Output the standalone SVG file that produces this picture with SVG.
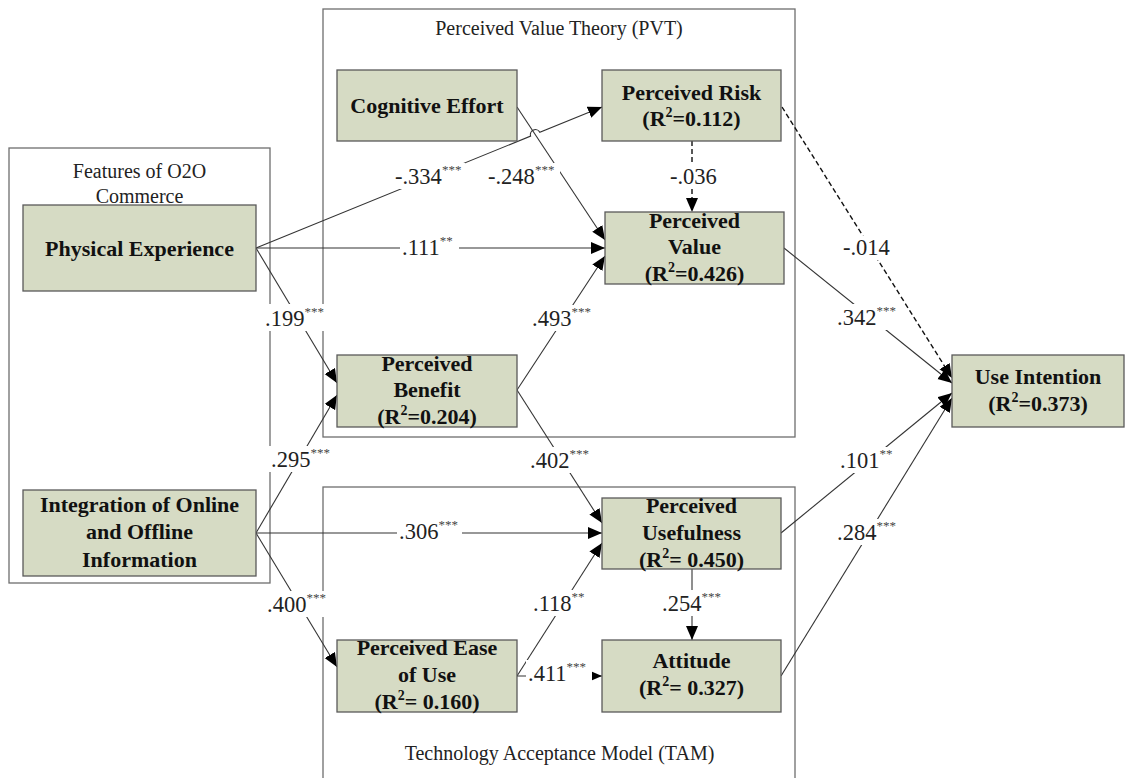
<svg xmlns="http://www.w3.org/2000/svg" width="1126" height="778" viewBox="0 0 1126 778">
<style>
.grp{fill:none;stroke:#6e6e6e;stroke-width:1.3}
.node{fill:#d6dbc4;stroke:#5a5a5a;stroke-width:1.3}
.nt{font-family:"Liberation Serif","Times New Roman",serif;font-size:22px;font-weight:bold;fill:#111;text-anchor:middle}
.gt{font-family:"Liberation Serif","Times New Roman",serif;font-size:20px;fill:#222;text-anchor:middle}
.lt{font-family:"Liberation Serif","Times New Roman",serif;font-size:22.5px;fill:#222}
.st{font-size:13px;fill:#444}
.ln{fill:none;stroke:#333;stroke-width:1.1}
.dash{stroke:#111;stroke-width:1.4;stroke-dasharray:5,3}
.bg{fill:#fff}
</style>
<defs>
<marker id="ah" markerUnits="userSpaceOnUse" markerWidth="15" markerHeight="13" refX="14" refY="6" orient="auto">
<path d="M0,0 L14,6 L0,12 z" fill="#000"/>
</marker>
</defs>
<rect width="1126" height="778" fill="#fff"/>

<g id="group-boxes">
<rect class="grp" x="323" y="9" width="472" height="428"/>
<rect class="grp" x="323" y="487" width="472" height="300"/>
<rect class="grp" x="9" y="148" width="261" height="435"/>
<text class="gt" x="559" y="35">Perceived Value Theory (PVT)</text>
<text class="gt" x="139.5" y="178">Features of O2O</text>
<text class="gt" x="139.5" y="203">Commerce</text>
<text class="gt" x="559.5" y="760">Technology Acceptance Model (TAM)</text>
</g>

<g id="connectors">
<path class="ln" d="M256,248 L530.6,136.1 A5,5 0 0 1 539.8,132.3 L602,107" marker-end="url(#ah)"/>
<path class="ln" d="M517,107 L605,240" marker-end="url(#ah)"/>
<path class="ln" d="M256,248 L605,248" marker-end="url(#ah)"/>
<path class="ln" d="M256,248 L337,383" marker-end="url(#ah)"/>
<path class="ln" d="M256,533 L337,395" marker-end="url(#ah)"/>
<path class="ln" d="M256,533 L602,533" marker-end="url(#ah)"/>
<path class="ln" d="M256,533 L337,667" marker-end="url(#ah)"/>
<path class="ln" d="M517,390 L605,256" marker-end="url(#ah)"/>
<path class="ln" d="M517,390 L602,523" marker-end="url(#ah)"/>
<path class="ln" d="M517,676 L602,543" marker-end="url(#ah)"/>
<path class="ln" d="M517,676 L602,676" marker-end="url(#ah)"/>
<path class="ln dash" d="M692,141 L692,212" marker-end="url(#ah)"/>
<path class="ln" d="M692,569 L692,640" marker-end="url(#ah)"/>
<path class="ln dash" d="M782,107 L952,378" marker-end="url(#ah)"/>
<path class="ln" d="M784,248 L952,383" marker-end="url(#ah)"/>
<path class="ln" d="M781,533 L952,393" marker-end="url(#ah)"/>
<path class="ln" d="M781,676 L952,398" marker-end="url(#ah)"/>

<g id="labels">
<rect class="bg" x="393" y="163" width="72" height="26"/>
<text class="lt" x="395" y="184">-.334<tspan class="st" dy="-10">***</tspan></text>
<rect class="bg" x="486" y="163" width="74" height="26"/>
<text class="lt" x="488" y="184">-.248<tspan class="st" dy="-10">***</tspan></text>
<rect class="bg" x="668" y="165" width="51" height="24"/>
<text class="lt" x="670" y="184">-.036</text>
<rect class="bg" x="400" y="234" width="59" height="26"/>
<text class="lt" x="402" y="255">.111<tspan class="st" dy="-10">**</tspan></text>
<rect class="bg" x="530" y="305" width="63" height="26"/>
<text class="lt" x="532" y="326">.493<tspan class="st" dy="-10">***</tspan></text>
<rect class="bg" x="841" y="236" width="50" height="24"/>
<text class="lt" x="843" y="255">-.014</text>
<rect class="bg" x="835" y="304" width="65" height="26"/>
<text class="lt" x="837" y="325">.342<tspan class="st" dy="-10">***</tspan></text>
<rect class="bg" x="838" y="447" width="57" height="26"/>
<text class="lt" x="840" y="468">.101<tspan class="st" dy="-10">**</tspan></text>
<rect class="bg" x="835" y="519" width="63" height="26"/>
<text class="lt" x="837" y="540">.284<tspan class="st" dy="-10">***</tspan></text>
<rect class="bg" x="528" y="447" width="64" height="26"/>
<text class="lt" x="530" y="468">.402<tspan class="st" dy="-10">***</tspan></text>
<rect class="bg" x="397" y="518" width="65" height="26"/>
<text class="lt" x="399" y="539">.306<tspan class="st" dy="-10">***</tspan></text>
<rect class="bg" x="531" y="590" width="63" height="26"/>
<text class="lt" x="533" y="611">.118<tspan class="st" dy="-10">**</tspan></text>
<rect class="bg" x="660" y="590" width="65" height="26"/>
<text class="lt" x="662" y="611">.254<tspan class="st" dy="-10">***</tspan></text>
<rect class="bg" x="526" y="660" width="66" height="26"/>
<text class="lt" x="528" y="681">.411<tspan class="st" dy="-10">***</tspan></text>
<rect class="bg" x="263" y="304" width="64" height="27"/>
<text class="lt" x="265" y="326">.199<tspan class="st" dy="-10">***</tspan></text>
<rect class="bg" x="269" y="446" width="58" height="26"/>
<text class="lt" x="271" y="467">.295<tspan class="st" dy="-10">***</tspan></text>
<rect class="bg" x="265" y="591" width="64" height="26"/>
<text class="lt" x="267" y="612">.400<tspan class="st" dy="-10">***</tspan></text>
</g>
</g>

<g id="physical-experience">
<rect class="node" x="23" y="205" width="233" height="86"/>
<text class="nt" x="139.5" y="256">Physical Experience</text>
</g>
<g id="integration">
<rect class="node" x="23" y="490" width="233" height="86"/>
<text class="nt" x="139.5" y="512">Integration of Online</text>
<text class="nt" x="139.5" y="539">and Offline</text>
<text class="nt" x="139.5" y="567">Information</text>
</g>
<g id="cognitive-effort">
<rect class="node" x="337" y="70" width="180" height="71"/>
<text class="nt" x="427" y="113">Cognitive Effort</text>
</g>
<g id="perceived-risk">
<rect class="node" x="602" y="70" width="179" height="71"/>
<text class="nt" x="691.5" y="100">Perceived Risk</text>
<text class="nt" x="691.5" y="126">(R<tspan font-size="14" dy="-9">2</tspan><tspan dy="9">=0.112)</tspan></text>
</g>
<g id="perceived-value">
<rect class="node" x="605" y="212" width="179" height="72"/>
<text class="nt" x="694.5" y="228">Perceived</text>
<text class="nt" x="694.5" y="254">Value</text>
<text class="nt" x="694.5" y="281">(R<tspan font-size="14" dy="-9">2</tspan><tspan dy="9">=0.426)</tspan></text>
</g>
<g id="perceived-benefit">
<rect class="node" x="337" y="355" width="180" height="72"/>
<text class="nt" x="427" y="371">Perceived</text>
<text class="nt" x="427" y="397">Benefit</text>
<text class="nt" x="427" y="424">(R<tspan font-size="14" dy="-9">2</tspan><tspan dy="9">=0.204)</tspan></text>
</g>
<g id="perceived-usefulness">
<rect class="node" x="602" y="498" width="179" height="71"/>
<text class="nt" x="691.5" y="513">Perceived</text>
<text class="nt" x="691.5" y="540">Usefulness</text>
<text class="nt" x="691.5" y="567">(R<tspan font-size="14" dy="-9">2</tspan><tspan dy="9">= 0.450)</tspan></text>
</g>
<g id="perceived-ease-of-use">
<rect class="node" x="337" y="640" width="180" height="72"/>
<text class="nt" x="427" y="655">Perceived Ease</text>
<text class="nt" x="427" y="682">of Use</text>
<text class="nt" x="427" y="709">(R<tspan font-size="14" dy="-9">2</tspan><tspan dy="9">= 0.160)</tspan></text>
</g>
<g id="attitude">
<rect class="node" x="602" y="640" width="179" height="72"/>
<text class="nt" x="691.5" y="668">Attitude</text>
<text class="nt" x="691.5" y="695">(R<tspan font-size="14" dy="-9">2</tspan><tspan dy="9">= 0.327)</tspan></text>
</g>
<g id="use-intention">
<rect class="node" x="952" y="355" width="172" height="72"/>
<text class="nt" x="1038" y="384">Use Intention</text>
<text class="nt" x="1038" y="411">(R<tspan font-size="14" dy="-9">2</tspan><tspan dy="9">=0.373)</tspan></text>
</g>
</svg>
